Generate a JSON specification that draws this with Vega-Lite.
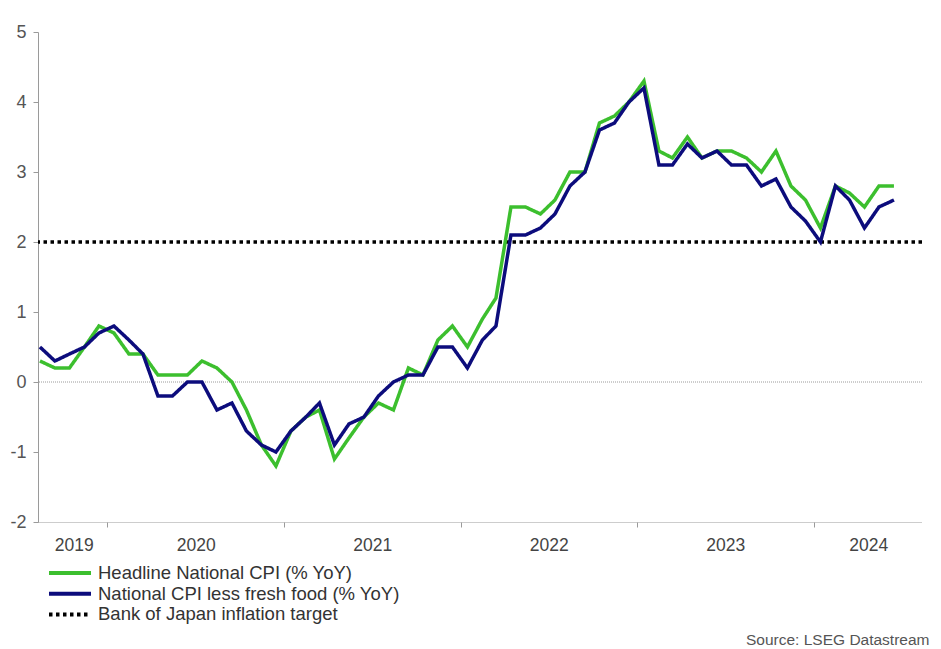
{
  "$schema": "https://vega.github.io/schema/vega-lite/v6.json",
  "autosize": "none",
  "width": 884,
  "height": 490,
  "padding": {"left": 38, "top": 32, "right": 19, "bottom": 127},
  "background": "#ffffff",
  "config": {
    "view": {"stroke": null},
    "font": "Liberation Sans"
  },
  "datasets": {
    "cpi": [
      {"date": "2019-08-15", "headline": 0.3, "core": 0.5},
      {"date": "2019-09-15", "headline": 0.2, "core": 0.3},
      {"date": "2019-10-15", "headline": 0.2, "core": 0.4},
      {"date": "2019-11-15", "headline": 0.5, "core": 0.5},
      {"date": "2019-12-15", "headline": 0.8, "core": 0.7},
      {"date": "2020-01-15", "headline": 0.7, "core": 0.8},
      {"date": "2020-02-15", "headline": 0.4, "core": 0.6},
      {"date": "2020-03-15", "headline": 0.4, "core": 0.4},
      {"date": "2020-04-15", "headline": 0.1, "core": -0.2},
      {"date": "2020-05-15", "headline": 0.1, "core": -0.2},
      {"date": "2020-06-15", "headline": 0.1, "core": 0.0},
      {"date": "2020-07-15", "headline": 0.3, "core": 0.0},
      {"date": "2020-08-15", "headline": 0.2, "core": -0.4},
      {"date": "2020-09-15", "headline": 0.0, "core": -0.3},
      {"date": "2020-10-15", "headline": -0.4, "core": -0.7},
      {"date": "2020-11-15", "headline": -0.9, "core": -0.9},
      {"date": "2020-12-15", "headline": -1.2, "core": -1.0},
      {"date": "2021-01-15", "headline": -0.7, "core": -0.7},
      {"date": "2021-02-15", "headline": -0.5, "core": -0.5},
      {"date": "2021-03-15", "headline": -0.4, "core": -0.3},
      {"date": "2021-04-15", "headline": -1.1, "core": -0.9},
      {"date": "2021-05-15", "headline": -0.8, "core": -0.6},
      {"date": "2021-06-15", "headline": -0.5, "core": -0.5},
      {"date": "2021-07-15", "headline": -0.3, "core": -0.2},
      {"date": "2021-08-15", "headline": -0.4, "core": 0.0},
      {"date": "2021-09-15", "headline": 0.2, "core": 0.1},
      {"date": "2021-10-15", "headline": 0.1, "core": 0.1},
      {"date": "2021-11-15", "headline": 0.6, "core": 0.5},
      {"date": "2021-12-15", "headline": 0.8, "core": 0.5},
      {"date": "2022-01-15", "headline": 0.5, "core": 0.2},
      {"date": "2022-02-15", "headline": 0.9, "core": 0.6},
      {"date": "2022-03-15", "headline": 1.2, "core": 0.8},
      {"date": "2022-04-15", "headline": 2.5, "core": 2.1},
      {"date": "2022-05-15", "headline": 2.5, "core": 2.1},
      {"date": "2022-06-15", "headline": 2.4, "core": 2.2},
      {"date": "2022-07-15", "headline": 2.6, "core": 2.4},
      {"date": "2022-08-15", "headline": 3.0, "core": 2.8},
      {"date": "2022-09-15", "headline": 3.0, "core": 3.0},
      {"date": "2022-10-15", "headline": 3.7, "core": 3.6},
      {"date": "2022-11-15", "headline": 3.8, "core": 3.7},
      {"date": "2022-12-15", "headline": 4.0, "core": 4.0},
      {"date": "2023-01-15", "headline": 4.3, "core": 4.2},
      {"date": "2023-02-15", "headline": 3.3, "core": 3.1},
      {"date": "2023-03-15", "headline": 3.2, "core": 3.1},
      {"date": "2023-04-15", "headline": 3.5, "core": 3.4},
      {"date": "2023-05-15", "headline": 3.2, "core": 3.2},
      {"date": "2023-06-15", "headline": 3.3, "core": 3.3},
      {"date": "2023-07-15", "headline": 3.3, "core": 3.1},
      {"date": "2023-08-15", "headline": 3.2, "core": 3.1},
      {"date": "2023-09-15", "headline": 3.0, "core": 2.8},
      {"date": "2023-10-15", "headline": 3.3, "core": 2.9},
      {"date": "2023-11-15", "headline": 2.8, "core": 2.5},
      {"date": "2023-12-15", "headline": 2.6, "core": 2.3},
      {"date": "2024-01-15", "headline": 2.2, "core": 2.0},
      {"date": "2024-02-15", "headline": 2.8, "core": 2.8},
      {"date": "2024-03-15", "headline": 2.7, "core": 2.6},
      {"date": "2024-04-15", "headline": 2.5, "core": 2.2},
      {"date": "2024-05-15", "headline": 2.8, "core": 2.5},
      {"date": "2024-06-15", "headline": 2.8, "core": 2.6}
    ],
    "zero": [{"value": 0}],
    "target": [{"series": "target", "value": 2}]
  },
  "layer": [
    {
      "data": {"name": "zero"},
      "mark": {"type": "rule", "color": "#9a9a9a", "strokeWidth": 1, "strokeDash": [1, 1]},
      "encoding": {
        "y": {"field": "value", "type": "quantitative"}
      }
    },
    {
      "data": {"name": "target"},
      "mark": {"type": "rule", "strokeWidth": 3.5},
      "encoding": {
        "y": {"field": "value", "type": "quantitative"},
        "color": {"field": "series", "type": "nominal"},
        "strokeDash": {"field": "series", "type": "nominal"}
      }
    },
    {
      "data": {"name": "cpi"},
      "transform": [
        {"fold": ["headline", "core"], "as": ["series", "value"]}
      ],
      "mark": {"type": "line", "strokeWidth": 3.5, "strokeJoin": "miter", "strokeCap": "butt"},
      "encoding": {
        "x": {
          "field": "date",
          "type": "temporal",
          "scale": {
            "domain": [
              {"year": 2019, "month": 8, "date": 11},
              {"year": 2024, "month": 8, "date": 12}
            ]
          },
          "axis": {
            "title": "Source: LSEG Datastream",
            "titleAnchor": "end",
            "titleAlign": "right",
            "titleBaseline": "alphabetic",
            "titleX": 891,
            "titleY": 122,
            "titleFontSize": 15.5,
            "titleFontWeight": "normal",
            "titleColor": "#555555",
            "values": [
              {"year": 2019, "month": 10, "date": 24},
              {"year": 2020, "month": 1, "date": 1},
              {"year": 2020, "month": 7, "date": 2},
              {"year": 2021, "month": 1, "date": 1},
              {"year": 2021, "month": 7, "date": 2},
              {"year": 2022, "month": 1, "date": 1},
              {"year": 2022, "month": 7, "date": 2},
              {"year": 2023, "month": 1, "date": 1},
              {"year": 2023, "month": 7, "date": 2},
              {"year": 2024, "month": 1, "date": 1},
              {"year": 2024, "month": 4, "date": 23}
            ],
            "labelExpr": "(date(datum.value) == 1 && month(datum.value) == 0) ? '' : timeFormat(datum.value, '%Y')",
            "tickOpacity": {
              "condition": {"test": "date(datum.value) == 1 && month(datum.value) == 0", "value": 1},
              "value": 0
            },
            "labelOverlap": false,
            "labelBound": false,
            "labelFlush": false,
            "grid": false,
            "tickSize": 5,
            "tickColor": "#9a9a9a",
            "domainColor": "#9a9a9a",
            "domainDash": [1, 1],
            "labelFontSize": 17.5,
            "labelColor": "#444444",
            "labelPadding": 9
          }
        },
        "y": {
          "field": "value",
          "type": "quantitative",
          "scale": {"domain": [-2, 5], "nice": false},
          "axis": {
            "title": null,
            "values": [-2, -1, 0, 1, 2, 3, 4, 5],
            "labelExpr": "toString(datum.value)",
            "grid": false,
            "tickSize": 5,
            "tickColor": "#9a9a9a",
            "domainColor": "#9a9a9a",
            "labelFontSize": 18,
            "labelColor": "#555555",
            "labelPadding": 7
          }
        },
        "color": {
          "field": "series",
          "type": "nominal",
          "scale": {
            "domain": ["headline", "core", "target"],
            "range": ["#3CBF2E", "#0C0C7C", "#000000"]
          },
          "legend": {
            "title": null,
            "orient": "none",
            "legendX": 9,
            "legendY": 531,
            "direction": "vertical",
            "padding": 0,
            "symbolType": "stroke",
            "symbolSize": 1764,
            "symbolStrokeWidth": 4,
            "clipHeight": 20,
            "rowPadding": 0.7,
            "labelOffset": 5,
            "labelFontSize": 18.5,
            "labelColor": "#333333",
            "labelLimit": 500,
            "labelExpr": "datum.label == 'headline' ? 'Headline National CPI (% YoY)' : datum.label == 'core' ? 'National CPI less fresh food (% YoY)' : 'Bank of Japan inflation target'"
          }
        },
        "strokeDash": {
          "field": "series",
          "type": "nominal",
          "scale": {
            "domain": ["headline", "core", "target"],
            "range": [[1, 0], [1, 0], [3.5, 3.5]]
          },
          "legend": {
            "title": null,
            "orient": "none",
            "legendX": 9,
            "legendY": 531,
            "direction": "vertical",
            "padding": 0,
            "symbolType": "stroke",
            "symbolSize": 1764,
            "symbolStrokeWidth": 4,
            "clipHeight": 20,
            "rowPadding": 0.7,
            "labelOffset": 5,
            "labelFontSize": 18.5,
            "labelColor": "#333333",
            "labelLimit": 500,
            "labelExpr": "datum.label == 'headline' ? 'Headline National CPI (% YoY)' : datum.label == 'core' ? 'National CPI less fresh food (% YoY)' : 'Bank of Japan inflation target'"
          }
        }
      }
    }
  ],
  "resolve": {"scale": {"color": "shared", "strokeDash": "shared"}}
}
